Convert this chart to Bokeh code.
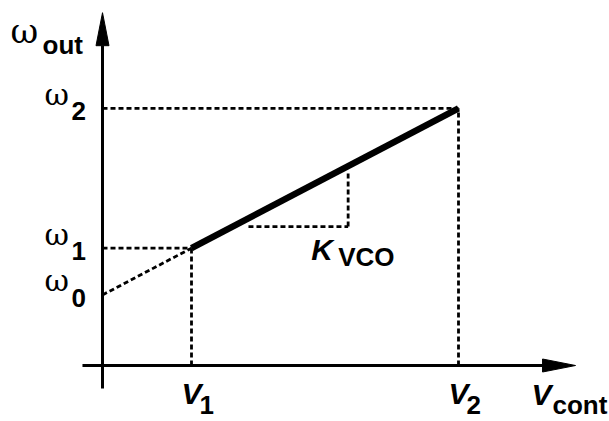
from bokeh.plotting import figure
from bokeh.models import Range1d
from bokeh.embed import file_html
from bokeh.resources import INLINE
from bokeh.core.properties import value

# Operating points of the VCO tuning characteristic
v_points = [1.0, 4.0]        # V1, V2
w_points = [1.63, 3.57]      # omega1, omega2
w0 = 0.98                    # omega0: line extrapolated to Vcont = 0
v_labels = ["1", "2"]
w_labels = ["0", "1", "2"]

# Slope triangle that marks K_VCO
tri_v = [1.64, 2.76]
tri_w = [1.93, 2.68]

# Axis extents (data units)
x_axis_span = [-0.225, 5.315]
y_axis_span = [-0.32, 4.90]

W, H = 609, 421
SX, SY = 89.0, 72.0          # pixels per unit on each axis
OX, OY = 102, 365            # pixel position of the origin
LIFT = 8                     # baseline correction for text placement, px


def dx(px):
    return px / SX


def dy(px):
    return px / SY


def ty(px_below_origin):
    """Data y for a text baseline given in pixels below the x axis."""
    return -dy(px_below_origin - LIFT)


p = figure(width=W, height=H, output_backend="svg", toolbar_location=None,
           x_range=Range1d(-OX / SX, (W - OX) / SX),
           y_range=Range1d(-(H - OY) / SY, OY / SY),
           x_axis_type=None, y_axis_type=None, min_border=0,
           outline_line_color=None, background_fill_color="white",
           border_fill_color="white")
p.xgrid.visible = False
p.ygrid.visible = False

dot = dict(line_color="black", line_width=2.8, line_dash="5 3")

# Dotted projections onto the axes
p.segment(x0=[0.0, 0.0], y0=w_points, x1=v_points, y1=w_points, **dot)
p.segment(x0=v_points, y0=[0.0, 0.0], x1=v_points, y1=w_points, **dot)
# Extrapolation back to omega0
p.segment(x0=[0.0], y0=[w0], x1=[v_points[0]], y1=[w_points[0]], **dot)
# Slope triangle
p.segment(x0=[tri_v[0], tri_v[1]], y0=[tri_w[0], tri_w[0]],
          x1=[tri_v[1], tri_v[1]], y1=[tri_w[0], tri_w[1]], **dot)

# Characteristic between V1 and V2
p.line(x=v_points, y=w_points, line_color="black", line_width=6.5)

# Axes with filled arrow heads
head_len, head_half = 33, 6.5
p.segment(x0=[x_axis_span[0]], y0=[0.0], x1=[x_axis_span[1] - dx(head_len)], y1=[0.0],
          line_color="black", line_width=3)
p.segment(x0=[0.0], y0=[y_axis_span[0]], x1=[0.0], y1=[y_axis_span[1] - dy(head_len)],
          line_color="black", line_width=3)
xt = x_axis_span[1]
p.patch(x=[xt, xt - dx(head_len), xt - dx(head_len)],
        y=[0.0, dy(head_half), -dy(head_half)], color="black", line_width=1)
yt = y_axis_span[1]
p.patch(x=[0.0, dx(head_half), -dx(head_half)],
        y=[yt, yt - dy(head_len), yt - dy(head_len)], color="black", line_width=1)

greek = dict(text_font=value("DejaVu Serif"), text_color="black",
             text_baseline="alphabetic", text_align="left")
ital = dict(text_font=value("Liberation Sans"), text_font_style="bold italic",
            text_font_size="30px", text_color="black",
            text_baseline="alphabetic", text_align="left")
sub = dict(text_font=value("Liberation Sans"), text_font_style="bold",
           text_font_size="26px", text_color="black",
           text_baseline="alphabetic", text_align="left")

# omega0, omega1, omega2 tick labels
w_vals = [w0] + w_points
p.text(x=[dx(44 - OX)] * 3, y=[w + dy(6 + LIFT) for w in w_vals], text=["ω"] * 3,
       text_font_size="30px", **greek)
p.text(x=[dx(71 - OX)] * 3, y=[w - dy(11 - LIFT) for w in w_vals], text=w_labels, **sub)

# omega_out axis title
p.text(x=[dx(10 - OX)], y=[ty(38 - OY)], text=["ω"], text_font_size="34px", **greek)
p.text(x=[dx(42 - OX)], y=[ty(52 - OY)], text=["out"], **sub)

# V1, V2 tick labels
p.text(x=[v - dx(10) for v in v_points], y=[ty(36)] * 2, text=["V"] * 2, **ital)
p.text(x=[v + dx(8) for v in v_points], y=[ty(47)] * 2, text=v_labels, **sub)

# Vcont axis title
p.text(x=[dx(531 - OX)], y=[ty(37)], text=["V"], **ital)
p.text(x=[dx(552 - OX)], y=[ty(47)], text=["cont"], **sub)

# K_VCO
p.text(x=[tri_v[1] - dx(37)], y=[tri_w[0] - dy(31 - LIFT)], text=["K"], **ital)
p.text(x=[tri_v[1] - dx(10)], y=[tri_w[0] - dy(38 - LIFT)], text=["VCO"], **sub)

open("out.html", "w").write(file_html(p, INLINE))
